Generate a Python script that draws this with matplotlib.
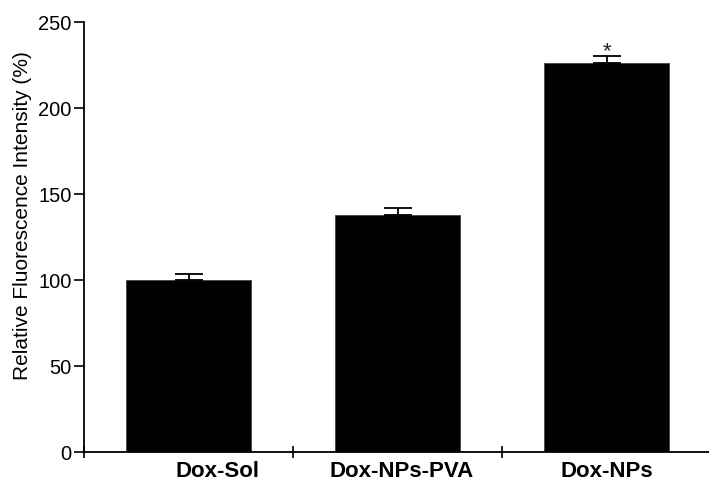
import matplotlib
matplotlib.use("Agg")
import matplotlib.pyplot as plt
import numpy as np

plt.rcParams['font.family'] = ['Liberation Sans', 'DejaVu Sans']

categories = ["Dox-Sol", "Dox-NPs-PVA", "Dox-NPs"]
intensity = [100, 138, 226]
error_up = [3.5, 4, 4.5]
significance = ["", "", "*"]
# horizontal placement of the category labels (in bar-index units)
label_pos = [0.14, 1.02, 2.0]

fig = plt.figure(figsize=(7.09, 4.82), dpi=100)
ax = fig.add_axes([0.1185, 0.0622, 0.8815, 0.892])

x = np.arange(len(categories))
ax.bar(x, intensity, width=0.6, color="black", edgecolor="#444444", linewidth=0.6, zorder=2)
ax.errorbar(x, intensity, yerr=[np.zeros(len(x)), error_up], fmt="none",
            ecolor="black", elinewidth=1.3, capsize=10, capthick=1.3, zorder=3)

for xi, v, e, s in zip(x, intensity, error_up, significance):
    if s:
        ax.annotate(s, (xi, v + e), xytext=(0, -5), textcoords="offset points",
                    ha="center", va="bottom", fontsize=16, color="#222222")

ax.set_xlim(-0.5, 2.49)
ax.set_ylim(0, 250)
ax.set_yticks([0, 50, 100, 150, 200, 250])
ax.tick_params(axis="y", direction="out", length=7, width=1.2, labelsize=14.5, pad=2)

ax.set_xticks(label_pos)
ax.set_xticklabels(categories, fontsize=16, fontweight="bold")
ax.tick_params(axis="x", which="major", length=0, pad=6.5)
ax.set_xticks([-0.5, 0.5, 1.5], minor=True)
ax.tick_params(axis="x", which="minor", direction="inout", length=8, width=1.2)

ax.set_ylabel("Relative Fluorescence Intensity (%)", fontsize=15)
ax.yaxis.set_label_coords(-0.084, 0.55)

for side in ("top", "right"):
    ax.spines[side].set_visible(False)
for side in ("left", "bottom"):
    ax.spines[side].set_linewidth(1.3)

fig.savefig("out.png", dpi=100)
